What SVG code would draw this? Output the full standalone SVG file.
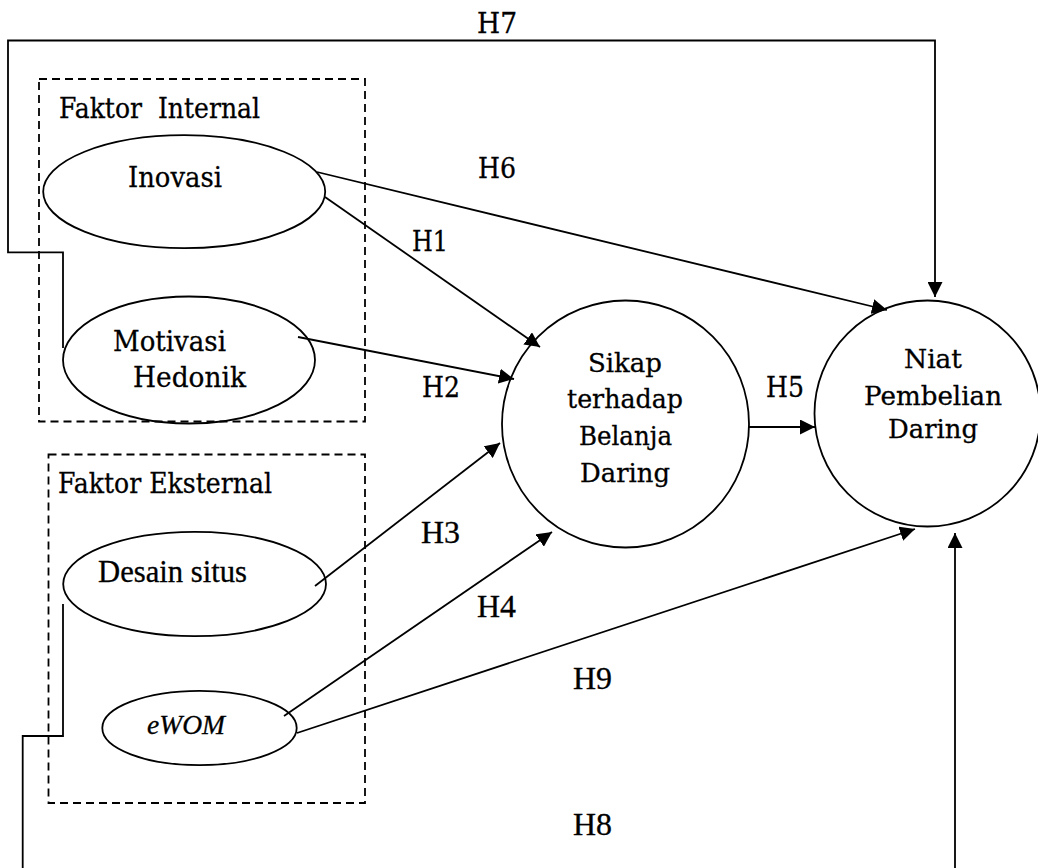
<svg xmlns="http://www.w3.org/2000/svg" width="1038" height="868" viewBox="0 0 1038 868">
<defs>
<marker id="arr" markerUnits="userSpaceOnUse" viewBox="0 0 15 15" refX="15" refY="7.5" markerWidth="15" markerHeight="15" orient="auto"><path d="M0,0 L15,7.5 L0,15 z" fill="#000"/></marker>
</defs>
<style>
.t{font-family:"DejaVu Serif","Liberation Serif",serif;fill:#000;stroke:#000;stroke-width:0.3;white-space:pre}
.g{font-family:"Liberation Serif","Times New Roman",serif;fill:#000;stroke:#000;stroke-width:0.3}
.ln{fill:none;stroke:#000;stroke-width:1.8}
.box{fill:none;stroke:#000;stroke-width:1.8;stroke-dasharray:8 5}
.nd{fill:none;stroke:#000;stroke-width:1.8}
</style>
<rect width="1038" height="868" fill="#fff"/>

<g id="faktor-internal">
<rect class="box" x="39" y="79" width="326" height="342.5"/>
<text class="t" x="59" y="118" font-size="27" textLength="201" lengthAdjust="spacingAndGlyphs" xml:space="preserve">Faktor  Internal</text>
</g>
<g id="faktor-eksternal">
<rect class="box" x="48.5" y="454.5" width="316.5" height="348.5"/>
<text class="t" x="58" y="493" font-size="27.5" textLength="214" lengthAdjust="spacingAndGlyphs">Faktor Eksternal</text>
</g>

<g id="inovasi">
<ellipse class="nd" cx="184.2" cy="191.7" rx="141" ry="56.5"/>
<text class="t" x="128" y="187" font-size="28" textLength="94" lengthAdjust="spacingAndGlyphs">Inovasi</text>
</g>
<g id="motivasi-hedonik">
<ellipse class="nd" cx="189" cy="360" rx="126" ry="63.5"/>
<text class="t" x="113" y="351" font-size="27" textLength="113" lengthAdjust="spacingAndGlyphs">Motivasi</text>
<text class="t" x="133" y="387" font-size="27" textLength="113" lengthAdjust="spacingAndGlyphs">Hedonik</text>
</g>
<g id="desain-situs">
<ellipse class="nd" cx="194.6" cy="584" rx="131.4" ry="52.2"/>
<text class="g" x="98" y="582" font-size="31" textLength="149" lengthAdjust="spacingAndGlyphs">Desain situs</text>
</g>
<g id="ewom">
<ellipse class="nd" cx="199.5" cy="728" rx="97.2" ry="37.2"/>
<text class="g" x="147" y="734" font-size="27" font-style="italic" textLength="78" lengthAdjust="spacingAndGlyphs">eWOM</text>
</g>
<g id="sikap">
<circle class="nd" cx="625.5" cy="424" r="123.5"/>
<text class="t" x="588" y="372" font-size="26" textLength="74" lengthAdjust="spacingAndGlyphs">Sikap</text>
<text class="t" x="567" y="408" font-size="26" textLength="116" lengthAdjust="spacingAndGlyphs">terhadap</text>
<text class="t" x="579" y="445" font-size="26" textLength="93" lengthAdjust="spacingAndGlyphs">Belanja</text>
<text class="t" x="580" y="482" font-size="26" textLength="90" lengthAdjust="spacingAndGlyphs">Daring</text>
</g>
<g id="niat">
<circle class="nd" cx="927.5" cy="413.5" r="113"/>
<text class="t" x="904" y="368" font-size="26" textLength="58" lengthAdjust="spacingAndGlyphs">Niat</text>
<text class="t" x="864" y="405" font-size="26" textLength="138" lengthAdjust="spacingAndGlyphs">Pembelian</text>
<text class="t" x="888" y="438" font-size="26" textLength="90" lengthAdjust="spacingAndGlyphs">Daring</text>
</g>

<g id="connectors">
<path class="ln" d="M63,348 V252.3 H8 V40.5 H935 V297" marker-end="url(#arr)"/>
<path class="ln" d="M317,172 L887,310" marker-end="url(#arr)"/>
<path class="ln" d="M325,197 L540,347" marker-end="url(#arr)"/>
<path class="ln" d="M298,337 L514,379" marker-end="url(#arr)"/>
<path class="ln" d="M749,427 H815" marker-end="url(#arr)"/>
<path class="ln" d="M315,586 L500,443" marker-end="url(#arr)"/>
<path class="ln" d="M284,716 L552,532" marker-end="url(#arr)"/>
<path class="ln" d="M297,733 L915,529" marker-end="url(#arr)"/>
<path class="ln" d="M63,604 V736 H22.7 V874 H955 V533" marker-end="url(#arr)"/>
</g>

<g id="labels">
<text class="t" x="477" y="33" font-size="28" textLength="40" lengthAdjust="spacingAndGlyphs">H7</text>
<text class="t" x="478" y="178" font-size="27" textLength="38" lengthAdjust="spacingAndGlyphs">H6</text>
<text class="t" x="412" y="251" font-size="27" textLength="36" lengthAdjust="spacingAndGlyphs">H1</text>
<text class="t" x="422" y="397" font-size="27" textLength="38" lengthAdjust="spacingAndGlyphs">H2</text>
<text class="t" x="766" y="397" font-size="27.5" textLength="38" lengthAdjust="spacingAndGlyphs">H5</text>
<text class="g" x="421" y="543" font-size="31" textLength="39" lengthAdjust="spacingAndGlyphs">H3</text>
<text class="g" x="477" y="617" font-size="31" textLength="39" lengthAdjust="spacingAndGlyphs">H4</text>
<text class="g" x="573" y="689" font-size="31" textLength="39" lengthAdjust="spacingAndGlyphs">H9</text>
<text class="g" x="573" y="835" font-size="31" textLength="39" lengthAdjust="spacingAndGlyphs">H8</text>
</g>
</svg>
